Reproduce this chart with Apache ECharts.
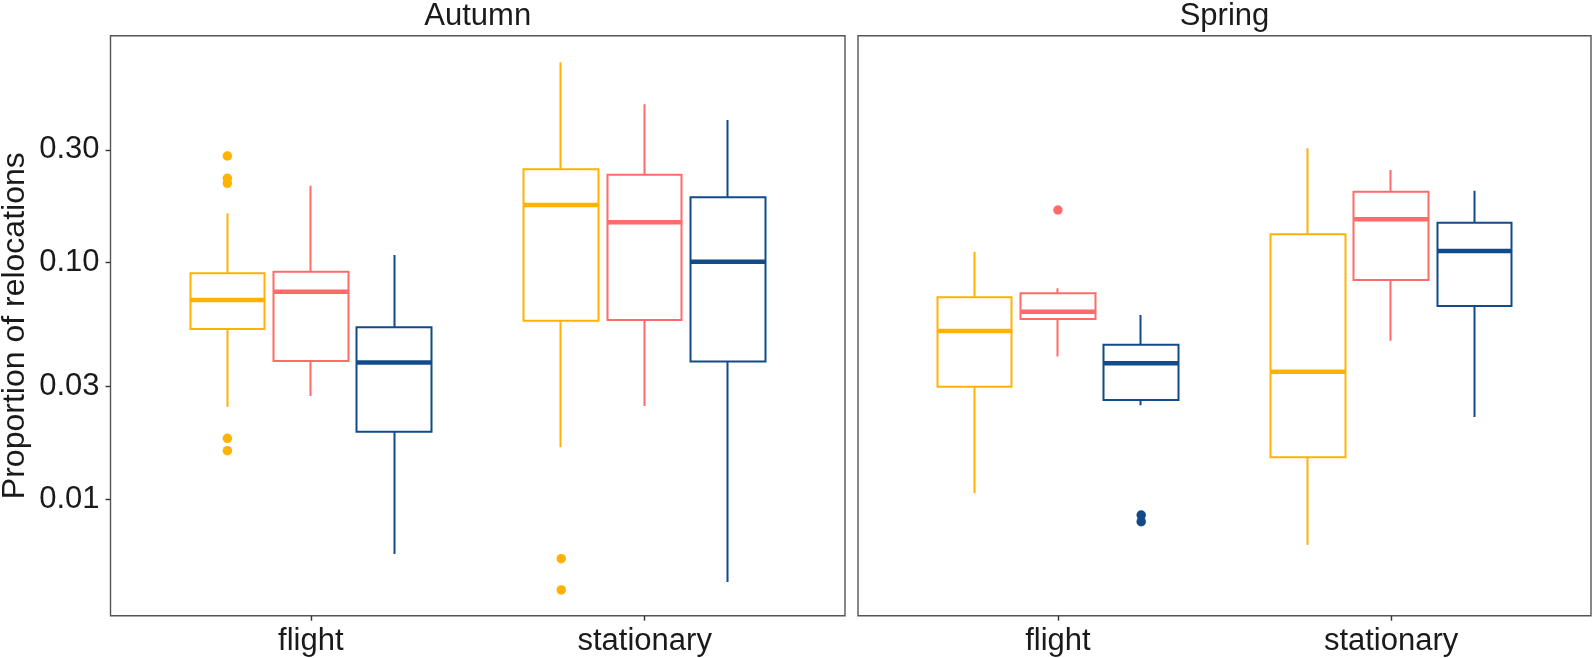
<!DOCTYPE html>
<html>
<head>
<meta charset="utf-8">
<script src="https://cdn.jsdelivr.net/npm/echarts@6/dist/echarts.min.js"></script>
<style>
  html, body { margin: 0; padding: 0; background: #fff; }
  #main { width: 1593px; height: 658px; }
</style>
</head>
<body>
<div id="main"></div>
<script>
// facets and categories
var seasons = ['Autumn', 'Spring'];
var categories = ['flight', 'stationary'];
var groupColors = ['#FFB300', '#FF6B6B', '#134B8A'];

// box stats per group: [min, Q1, median, Q3, max] for flight, stationary
var autumnBoxes = [
  [[0.0246, 0.0524, 0.0696, 0.0902, 0.1618], [0.0166, 0.0569, 0.1753, 0.2482, 0.703]],
  [[0.0273, 0.0384, 0.0754, 0.0916, 0.2115], [0.0248, 0.0573, 0.1482, 0.2354, 0.467]],
  [[0.00587, 0.0193, 0.0379, 0.0533, 0.1078], [0.00447, 0.0382, 0.101, 0.189, 0.401]]
];
var springBoxes = [
  [[0.0106, 0.0299, 0.0514, 0.0714, 0.1113], [0.00641, 0.01505, 0.0346, 0.1318, 0.3044]],
  [[0.0401, 0.0578, 0.0621, 0.0743, 0.0779], [0.0468, 0.0845, 0.1526, 0.1996, 0.2465]],
  [[0.0250, 0.0263, 0.0376, 0.0450, 0.0601], [0.0223, 0.0656, 0.1121, 0.1476, 0.2015]]
];

// outliers per group: [category, value]
var autumnOutliers = [
  [['flight', 0.2825], ['flight', 0.2274], ['flight', 0.2166], ['flight', 0.0181], ['flight', 0.01605],
   ['stationary', 0.00561], ['stationary', 0.00414]],
  [],
  []
];
var springOutliers = [
  [],
  [['flight', 0.167]],
  [['flight', 0.00858], ['flight', 0.00804]]
];

var yTickValues = [0.01, 0.03, 0.1, 0.3];
var yTickLabels = ['0.01', '0.03', '0.10', '0.30'];
var yMin = 0.003221;
var yMax = 0.9108;

var fontFamily = "'Liberation Sans', Arial, Helvetica, sans-serif";
var textColor = '#1a1a1a';

// panel layout (pixels)
var panels = [
  { left: 110.5, width: 734.5 },
  { left: 858, width: 733 }
];
var panelTop = 35.7;
var panelHeight = 580;

var boxesBySeason = [autumnBoxes, springBoxes];
var outliersBySeason = [autumnOutliers, springOutliers];

function tickLabel(v) {
  for (var i = 0; i < yTickValues.length; i++) {
    if (Math.abs(v - yTickValues[i]) / yTickValues[i] < 1e-6) return yTickLabels[i];
  }
  return '';
}

function makeYAxis(gridIndex, visible) {
  return {
    gridIndex: gridIndex,
    type: 'log',
    logBase: 10,
    min: yMin,
    max: yMax,
    show: visible,
    axisLine: { show: false },
    axisTick: { show: true, length: 5, customValues: yTickValues, lineStyle: { color: '#333', width: 1.4 } },
    axisLabel: {
      customValues: yTickValues,
      formatter: tickLabel,
      fontSize: 31,
      color: textColor,
      fontFamily: fontFamily,
      margin: 11
    },
    minorTick: { show: false },
    splitLine: { show: false },
    name: visible ? 'Proportion of relocations' : '',
    nameLocation: 'middle',
    nameGap: 79,
    nameTextStyle: { fontSize: 32, color: textColor, fontFamily: fontFamily }
  };
}

var grids = [], xAxes = [], yAxes = [], series = [], graphics = [];

panels.forEach(function (p, pi) {
  var unit = p.width / 2.2;
  var boxW = unit * 0.225;

  // panel frame
  var frameIdx = grids.length;
  grids.push({ left: p.left, top: panelTop, width: p.width, height: panelHeight,
               outerBoundsMode: 'none',
               show: true, borderColor: '#555', borderWidth: 1.4, backgroundColor: '#fff' });
  xAxes.push({ gridIndex: frameIdx, type: 'category', data: categories, show: false });
  yAxes.push(makeYAxis(frameIdx, pi === 0));

  graphics.push({
    type: 'text',
    x: p.left + p.width / 2,
    y: 16,
    style: { text: seasons[pi], align: 'center', verticalAlign: 'middle',
             fontSize: 31, fill: textColor, fontFamily: fontFamily }
  });

  // one dodged grid per group
  for (var g = 0; g < 3; g++) {
    var gi = grids.length;
    grids.push({ left: p.left + (0.1 + (g - 1) * 0.25) * unit, top: panelTop,
                 width: 2 * unit, height: panelHeight, show: false, outerBoundsMode: 'none' });
    xAxes.push({
      gridIndex: gi, type: 'category', data: categories, show: g === 1,
      axisLine: { show: false },
      axisTick: { show: true, alignWithLabel: true, length: 5, lineStyle: { color: '#333', width: 1.4 } },
      axisLabel: { fontSize: 31, color: textColor, fontFamily: fontFamily, margin: 10 },
      splitLine: { show: false }
    });
    yAxes.push(makeYAxis(gi, false));
    var xi = xAxes.length - 1, yi = yAxes.length - 1;
    var color = groupColors[g];
    var boxes = boxesBySeason[pi][g];

    // box + whiskers: [Q1, Q3, min, max]
    series.push({
      type: 'candlestick',
      xAxisIndex: xi, yAxisIndex: yi,
      barWidth: boxW,
      data: boxes.map(function (b) { return [b[1], b[3], b[0], b[4]]; }),
      itemStyle: { color: '#fff', color0: '#fff', borderColor: color, borderColor0: color, borderWidth: 2 },
      emphasis: { disabled: true },
      silent: true,
      z: 3
    });
    // median line
    series.push({
      type: 'scatter',
      xAxisIndex: xi, yAxisIndex: yi,
      symbol: 'rect',
      symbolSize: [boxW, 4.5],
      data: boxes.map(function (b, i) { return [categories[i], b[2]]; }),
      itemStyle: { color: color, opacity: 1 },
      silent: true,
      z: 4
    });
    // outliers
    series.push({
      type: 'scatter',
      xAxisIndex: xi, yAxisIndex: yi,
      symbol: 'circle',
      symbolSize: 9.5,
      data: outliersBySeason[pi][g],
      itemStyle: { color: color, opacity: 1 },
      silent: true,
      z: 4
    });
  }
});

var chart = echarts.init(document.getElementById('main'), null, { renderer: 'canvas' });
chart.setOption({
  animation: false,
  backgroundColor: '#fff',
  grid: grids,
  xAxis: xAxes,
  yAxis: yAxes,
  series: series,
  graphic: graphics
});
</script>
</body>
</html>
